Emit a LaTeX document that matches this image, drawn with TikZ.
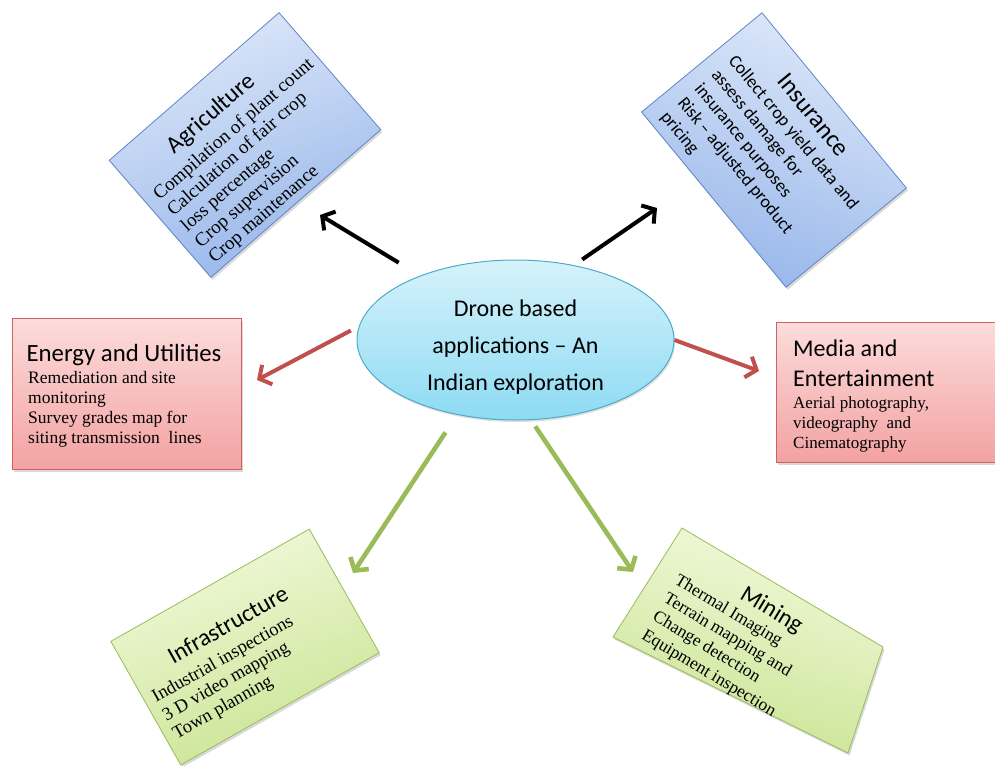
\documentclass[tikz,border=0pt]{standalone}
\usepackage{fontspec}
\setmainfont{Liberation Serif}
\newfontfamily\headfont{Carlito}
\usetikzlibrary{arrows.meta,shadows,shapes.geometric}
\definecolor{blueA}{HTML}{DDE8F9}
\definecolor{blueB}{HTML}{97B6EA}
\definecolor{blueline}{HTML}{5E86C6}
\definecolor{redA}{HTML}{FCDCDC}
\definecolor{redB}{HTML}{F3A2A2}
\definecolor{redline}{HTML}{CF625E}
\definecolor{greenA}{HTML}{F2F9DC}
\definecolor{greenB}{HTML}{C9E493}
\definecolor{greenline}{HTML}{9BBB59}
\definecolor{ellA}{HTML}{D6F2FB}
\definecolor{ellB}{HTML}{8DDBF3}
\definecolor{ellline}{HTML}{4BACC6}
\definecolor{arrred}{HTML}{C0504D}
\definecolor{arrgreen}{HTML}{9BBB59}
\begin{document}
\begin{tikzpicture}[x=1pt,y=-1pt,
  box/.style={draw, line width=0.8pt, inner sep=0pt,
    drop shadow={shadow xshift=1.5pt, shadow yshift=-2.5pt, opacity=0.3}},
  bluebox/.style={box, draw=blueline, top color=blueA, bottom color=blueB},
  redbox/.style={box, draw=redline, top color=redA, bottom color=redB},
  greenbox/.style={box, draw=greenline, top color=greenA, bottom color=greenB},
  head/.style={font=\headfont\fontsize{24}{30}\selectfont, inner sep=0pt},
  body/.style={font=\fontsize{17.5}{20}\selectfont, inner sep=0pt, align=left},
  arr/.style={line width=4pt, -{Straight Barb[length=9pt,width=22pt]}},
]
\useasboundingbox (0,0) rectangle (995,765);

% centre ellipse
\node[ellipse, draw=ellline, line width=1pt, top color=ellA, bottom color=ellB,
  minimum width=317pt, minimum height=160pt, inner sep=0pt,
  drop shadow={shadow xshift=1pt, shadow yshift=-2pt, opacity=0.25}] (ell) at (515.5,340) {};
\node[font=\headfont\fontsize{24}{37}\selectfont, align=center, inner sep=0pt] (elltxt)
  at (515.5,347) {Drone based\\applications – An\\Indian exploration};

% Energy and Utilities
\node[redbox, minimum width=229pt, minimum height=151pt] (energy) at (126.5,393.5) {};
\node[head, anchor=base, font=\headfont\fontsize{24.8}{30}\selectfont] (energyh) at (124,361) {Energy and Utilities};
\node[body, anchor=north west] (energyb) at (28,371.5)
  {Remediation and site\\monitoring\\Survey grades map for\\siting transmission\ \ lines};

% Media and Entertainment
\node[redbox, minimum width=229pt, minimum height=140pt] (media) at (890.5,392) {};
\node[head, anchor=north west, align=left] (mediah) at (793,339.5) {Media and\\Entertainment};
\node[body, anchor=north west, font=\fontsize{17}{20}\selectfont] (mediab) at (793,396.5)
  {Aerial photography,\\videography\ \ and\\Cinematography};

% Agriculture
\begin{scope}[shift={(245,145)}, rotate=41]
\node[bluebox, transform shape, minimum width=225pt, minimum height=155pt, shading angle=20] (agri) at (0,0) {};
\node[head, transform shape, anchor=base] (agrih) at (-5,-39) {Agriculture};
\node[body, transform shape, anchor=north west, font=\fontsize{19}{21}\selectfont] (agrib) at (-101,-27.6)
  {Compilation of plant count\\Calculation of fair crop\\loss percentage\\Crop supervision\\Crop maintenance};
\end{scope}

% Insurance
\begin{scope}[shift={(774,150)}, rotate=-50.5]
\node[bluebox, transform shape, minimum width=227pt, minimum height=156pt, shading angle=-20] (insur) at (0,0) {};
\node[head, transform shape, anchor=base, font=\headfont\fontsize{25}{30}\selectfont] (insurh) at (-2,-45) {Insurance};
\node[body, transform shape, anchor=north west, font=\headfont\fontsize{18}{22}\selectfont] (insurb) at (-98,-33.6)
  {Collect crop yield data and\\assess damage for\\insurance purposes\\Risk – adjusted product\\pricing};
\end{scope}

% Infrastructure
\begin{scope}[shift={(245,647)}, rotate=29.5]
\node[greenbox, transform shape, minimum width=228pt, minimum height=142pt, shading angle=20] (infra) at (0,0) {};
\node[head, transform shape, anchor=base] (infrah) at (-4,-20) {Infrastructure};
\node[body, transform shape, anchor=north west, font=\fontsize{18.5}{21}\selectfont] (infrab) at (-105,-8.2)
  {Industrial inspections\\3 D video mapping\\Town planning};
\end{scope}

% Mining (box drawn in perspective)
\coordinate (m1) at (682,528);
\coordinate (m2) at (883,647);
\coordinate (m3) at (848,753);
\coordinate (m4) at (613,637);
\path[greenbox, shading angle=-15] (m1) -- (m2) -- (m3) -- (m4) -- cycle;
\begin{scope}[shift={(674,582.6)}, rotate=-31]
\node[head, transform shape, anchor=base] (miningh) at (97.8,-19.9) {Mining};
\node[body, transform shape, anchor=north west, font=\fontsize{17.5}{21.3}\selectfont] (miningb) at (0,-11.6)
  {Thermal Imaging\\Terrain mapping and\\Change detection\\Equipment inspection};
\end{scope}

% arrow tips
\coordinate (tagri) at (320,215);
\coordinate (tinsur) at (657,208);
\coordinate (tenergy) at (257,380);
\coordinate (tmedia) at (759,371);
\coordinate (tinfra) at (353,573);
\coordinate (tmining) at (633,572);

\draw[arr, black, shorten <=25pt] (ell.146.9) -- (tagri);
\draw[arr, black, shorten <=10pt] (ell.52.8) -- (tinsur);
\draw[arr, arrred, shorten <=9pt] (ell.175.5) -- (tenergy);
\draw[arr, arrred] (ell.0) -- (tmedia);
\draw[arr, arrgreen, line width=4.6pt, shorten <=21pt] (ell.232) -- (tinfra);
\draw[arr, arrgreen, line width=4.6pt, shorten <=7.5pt] (ell.281) -- (tmining);
\end{tikzpicture}
\end{document}
